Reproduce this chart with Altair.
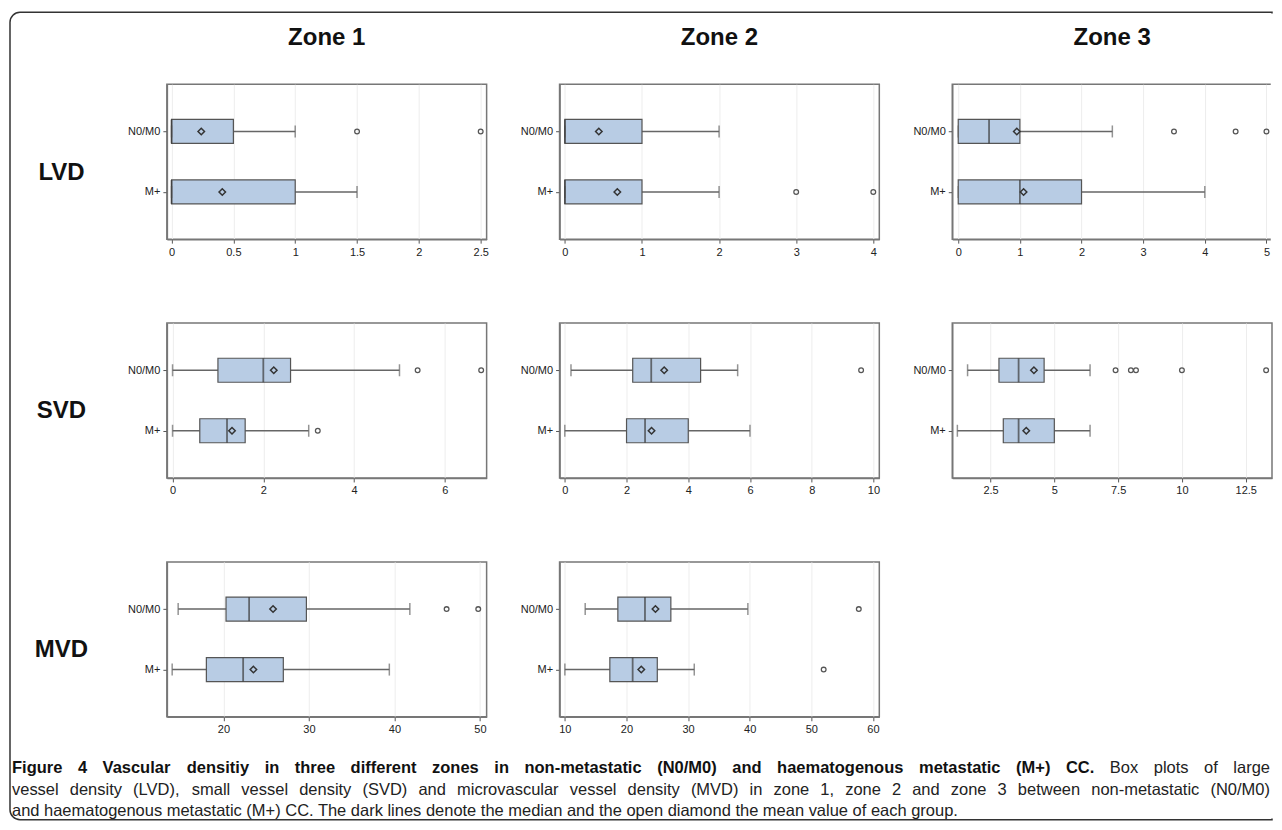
import altair as alt
import pandas as pd

# ---------------- data ----------------
box_panel = ["LVD1", "LVD1", "LVD2", "LVD2", "LVD3", "LVD3",
             "SVD1", "SVD1", "SVD2", "SVD2", "SVD3", "SVD3",
             "MVD1", "MVD1", "MVD2", "MVD2"]
box_group = ["N0/M0", "M+"] * 8
whisker_low = [0, 0, 0, 0, 0, 0, 0, 0, 0.2, 0, 1.6, 1.2, 14.7, 14.0, 13.3, 10.0]
q1 = [0, 0, 0, 0, 0, 0, 1.0, 0.6, 2.2, 2.0, 2.83, 3.0, 20.3, 18.0, 18.6, 17.3]
median = [0, 0, 0, 0, 0.5, 1.0, 2.0, 1.2, 2.8, 2.6, 3.6, 3.6, 23.0, 22.3, 23.0, 21.0]
q3 = [0.5, 1.0, 1, 1, 1, 2, 2.6, 1.6, 4.4, 4.0, 4.6, 5.0, 29.7, 27.0, 27.2, 25.0]
whisker_high = [1.0, 1.5, 2, 2, 2.5, 4, 5.0, 3.0, 5.6, 6.0, 6.4, 6.4, 41.8, 39.4, 39.7, 31.0]
mean = [0.24, 0.41, 0.44, 0.68, 0.95, 1.06, 2.23, 1.31, 3.22, 2.81, 4.2, 3.9,
        25.8, 23.5, 24.7, 22.4]

outlier_panel = ["LVD1", "LVD1", "LVD2", "LVD2", "LVD3", "LVD3", "LVD3",
                 "SVD1", "SVD1", "SVD1", "SVD2",
                 "SVD3", "SVD3", "SVD3", "SVD3", "SVD3",
                 "MVD1", "MVD1", "MVD2", "MVD2"]
outlier_group = ["N0/M0", "N0/M0", "M+", "M+", "N0/M0", "N0/M0", "N0/M0",
                 "N0/M0", "N0/M0", "M+", "N0/M0",
                 "N0/M0", "N0/M0", "N0/M0", "N0/M0", "N0/M0",
                 "N0/M0", "N0/M0", "N0/M0", "M+"]
outlier_value = [1.5, 2.5, 3, 4, 3.5, 4.5, 5.0,
                 5.4, 6.8, 3.2, 9.6,
                 7.4, 8.0, 8.2, 10.0, 13.3,
                 46.1, 49.8, 57.7, 52.0]

panel_ids = ["LVD1", "LVD2", "LVD3", "SVD1", "SVD2", "SVD3", "MVD1", "MVD2"]
panel_row = ["LVD", "LVD", "LVD", "SVD", "SVD", "SVD", "MVD", "MVD"]
panel_zone = ["Zone 1", "Zone 2", "Zone 3", "Zone 1", "Zone 2", "Zone 3", "Zone 1", "Zone 2"]
panel_domain = [(-0.038, 2.548), (-0.069, 4.078), (-0.097, 5.09),
                (-0.125, 6.92), (-0.17, 10.19), (1.0, 13.53),
                (13.38, 50.78), (9.14, 61.03)]
panel_ticks = [[0, 0.5, 1, 1.5, 2, 2.5], [0, 1, 2, 3, 4], [0, 1, 2, 3, 4, 5],
               [0, 2, 4, 6], [0, 2, 4, 6, 8, 10], [2.5, 5, 7.5, 10, 12.5],
               [20, 30, 40, 50], [10, 20, 30, 40, 50, 60]]
group_order = ["N0/M0", "M+"]

caption_bold = ("Figure 4 Vascular densitiy in three different zones in non-metastatic "
                "(N0/M0) and haematogenous metastatic (M+) CC.")
caption_line1_rest = "Box plots of large"
caption_line2 = ("vessel density (LVD), small vessel density (SVD) and microvascular vessel "
                 "density (MVD) in zone 1, zone 2 and zone 3 between non-metastatic (N0/M0)")
caption_line3 = ("and haematogenous metastatic (M+) CC. The dark lines denote the median and "
                 "the open diamond the mean value of each group.")

# ---------------- tables ----------------
boxes = pd.DataFrame({"panel": box_panel, "group": box_group, "lo": whisker_low,
                      "q1": q1, "median": median, "q3": q3, "hi": whisker_high,
                      "mean": mean})
outliers = pd.DataFrame({"panel": outlier_panel, "group": outlier_group,
                         "value": outlier_value})

FONT = "Liberation Sans"
BOX_FILL = "#b8cce4"
W, H = 320, 155
CAP_SIZE = 16.5

# Arial / Liberation Sans advance widths (1/1000 em) for justified caption layout
_REG = dict(zip("ABCDEFGHIJKLMNOPQRSTUVWXYZ",
                [667, 667, 722, 722, 667, 611, 778, 722, 278, 500, 667, 556, 833,
                 722, 778, 667, 778, 722, 667, 611, 722, 667, 944, 667, 667, 611]))
_REG.update(zip("abcdefghijklmnopqrstuvwxyz",
                [556, 556, 500, 556, 556, 278, 556, 556, 222, 222, 500, 222, 833,
                 556, 556, 556, 556, 333, 500, 278, 556, 500, 722, 500, 500, 500]))
_BOLD = dict(zip("ABCDEFGHIJKLMNOPQRSTUVWXYZ",
                 [722, 722, 722, 722, 667, 611, 778, 722, 278, 556, 722, 611, 833,
                  722, 778, 667, 778, 722, 667, 611, 722, 667, 944, 667, 667, 611]))
_BOLD.update(zip("abcdefghijklmnopqrstuvwxyz",
                 [556, 611, 556, 611, 556, 333, 611, 611, 278, 278, 556, 278, 889,
                  611, 611, 611, 611, 389, 556, 333, 611, 556, 778, 556, 556, 500]))
for _t in (_REG, _BOLD):
    _t.update({d: 556 for d in "0123456789"})
    _t.update({" ": 278, "(": 333, ")": 333, "/": 278, "+": 584, ".": 278,
               ",": 278, "-": 333})


def text_w(s, bold):
    t = _BOLD if bold else _REG
    return sum(t.get(c, 556) for c in s) * CAP_SIZE / 1000.0


# positions below are relative to the SVD / Zone 1 panel origin
CAP_LEFT, CAP_RIGHT = -155, 1104
FRAME_L, FRAME_R, FRAME_T, FRAME_B = -157, 1106, -311, 497


def justify(words, y):
    """words: list of (text, bold). Returns rows with x positions."""
    total = sum(text_w(w, b) for w, b in words)
    gap = (CAP_RIGHT - CAP_LEFT - total) / (len(words) - 1)
    rows, x = [], CAP_LEFT
    for w, b in words:
        rows.append({"word": w, "x": x, "y": y, "bold": b})
        x += text_w(w, b) + gap
    return rows


line1 = [(w, True) for w in caption_bold.split()] + \
        [(w, False) for w in caption_line1_rest.split()]
line2 = [(w, False) for w in caption_line2.split()]
cap_rows = justify(line1, 445) + justify(line2, 467)
cap_rows.append({"word": caption_line3, "x": CAP_LEFT, "y": 488, "bold": False})
caption = pd.DataFrame(cap_rows)


def make_panel(i):
    pid = panel_ids[i]
    bd = boxes[boxes.panel == pid]
    od = outliers[outliers.panel == pid]
    first_col = panel_zone[i] == "Zone 1"
    xscale = alt.Scale(domain=list(panel_domain[i]), nice=False, zero=False)
    xaxis = alt.Axis(values=panel_ticks[i], labelExpr="'' + datum.value", grid=True,
                     title=None)
    if first_col:
        yaxis = alt.Axis(title=panel_row[i], titleAngle=0, titleFontSize=24,
                         titleFontWeight="bold", titleX=-106, titleY=88,
                         titleAlign="center", titleBaseline="middle",
                         titleColor="#111")
    else:
        yaxis = alt.Axis(title=None)
    y = alt.Y("group:N", sort=group_order,
              scale=alt.Scale(type="point", domain=group_order, padding=0.78),
              axis=yaxis)

    base = alt.Chart(bd)
    whisk = base.mark_rule(color="#666", strokeWidth=1.5).encode(
        x=alt.X("lo:Q", scale=xscale, axis=xaxis), x2="hi:Q", y=y)
    box = base.mark_bar(size=24, fill=BOX_FILL, stroke="#555", strokeWidth=1.2).encode(
        x=alt.X("q1:Q", scale=xscale, axis=xaxis), x2="q3:Q", y=y)
    cap_lo = base.mark_tick(orient="vertical", size=12, thickness=1.5, color="#666").encode(
        x=alt.X("lo:Q", scale=xscale, axis=xaxis), y=y)
    cap_hi = base.mark_tick(orient="vertical", size=12, thickness=1.5, color="#666").encode(
        x=alt.X("hi:Q", scale=xscale, axis=xaxis), y=y)
    med = base.mark_tick(orient="vertical", size=24, thickness=1.8, color="#3a3a3a").encode(
        x=alt.X("median:Q", scale=xscale, axis=xaxis), y=y)
    mn = base.mark_point(shape="diamond", filled=False, size=42, strokeWidth=1.5,
                         color="#333", opacity=1).encode(
        x=alt.X("mean:Q", scale=xscale, axis=xaxis), y=y)
    outl = alt.Chart(od).mark_point(shape="circle", filled=False, size=22, strokeWidth=1.3,
                                    color="#555", opacity=1).encode(
        x=alt.X("value:Q", scale=xscale, axis=xaxis), y=y)

    layers = [whisk, box, cap_lo, cap_hi, med, mn, outl]

    if pid == "SVD1":
        # figure frame (open on the right, as the page edge cuts it) and caption
        one = pd.DataFrame({"k": [0]})
        frame = alt.Chart(one).mark_rect(fillOpacity=0, stroke="#333", strokeWidth=1.5,
                                         cornerRadiusTopLeft=10,
                                         cornerRadiusBottomLeft=10).encode(
            x=alt.value(FRAME_L), x2=alt.value(FRAME_R),
            y=alt.value(FRAME_T), y2=alt.value(FRAME_B))
        frame_cut = alt.Chart(one).mark_rule(color="white", strokeWidth=2.5).encode(
            x=alt.value(FRAME_R), y=alt.value(FRAME_T + 1.2), y2=alt.value(FRAME_B - 1.2))
        cap_b = alt.Chart(caption[caption.bold]).mark_text(
            align="left", baseline="middle", fontSize=CAP_SIZE, fontWeight="bold",
            color="#111").encode(
            x=alt.X("x:Q", scale=None), y=alt.Y("y:Q", scale=None), text="word:N")
        cap_r = alt.Chart(caption[~caption.bold]).mark_text(
            align="left", baseline="middle", fontSize=CAP_SIZE, color="#222").encode(
            x=alt.X("x:Q", scale=None), y=alt.Y("y:Q", scale=None), text="word:N")
        layers += [frame, frame_cut, cap_b, cap_r]

    ch = alt.layer(*layers).properties(width=W, height=H)
    if panel_row[i] == "LVD":
        ch = ch.properties(title=alt.TitleParams(panel_zone[i], fontSize=24,
                                                 fontWeight="bold", anchor="middle",
                                                 frame="group", offset=34,
                                                 color="#111"))
    return ch


charts = [make_panel(i) for i in range(len(panel_ids))]

chart = alt.concat(*charts, columns=3, spacing={"row": 84, "column": 73},
                   bounds="flush").properties(
    padding={"left": 0, "top": 2, "right": 0, "bottom": 0}
).configure(font=FONT).configure_view(
    stroke="#777", strokeWidth=1.5
).configure_axis(
    domainColor="#777", domainWidth=1.5, tickColor="#555", tickSize=4,
    labelFont=FONT, labelFontSize=11, labelColor="#222", labelPadding=3,
    gridColor="#ededed", gridWidth=1
).configure_axisY(labelFontSize=11, tickSize=4)

chart.save("out.html", embed_options={"renderer": "svg", "actions": False})
